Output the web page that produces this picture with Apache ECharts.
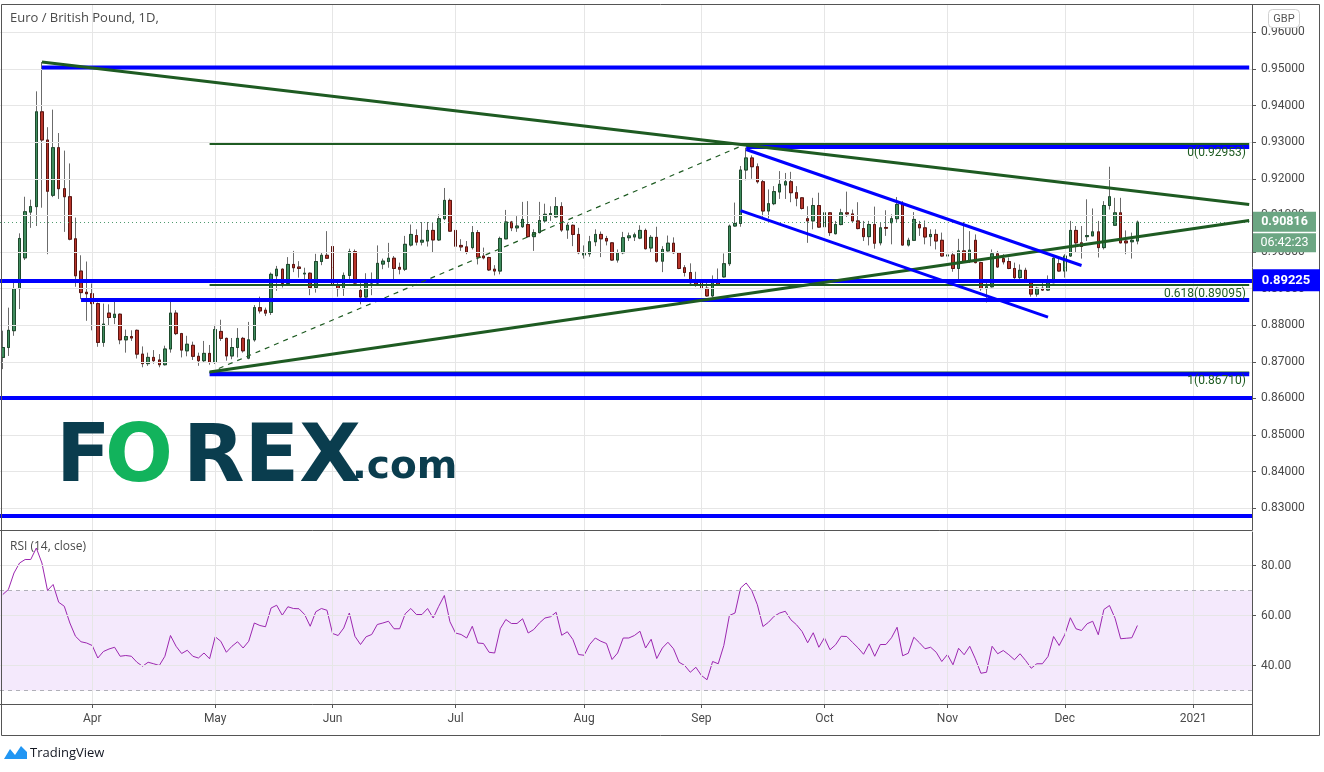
<!DOCTYPE html>
<html><head><meta charset="utf-8">
<script src="https://cdn.jsdelivr.net/npm/echarts@6/dist/echarts.min.js"></script>
<style>html,body{margin:0;padding:0;background:#fff}#c{width:1324px;height:772px}</style>
</head><body><div id="c"></div>
<script>
// ---------- DATA ----------
const opens=[.8712,.8739,.8785,.8900,.8984,.9109,.9124,.9383,.9306,.9155,.9285,.9173,.9151,.9036,.8948,.8890,.8886,.8859,.8753,.8833,
.8821,.8830,.8760,.8769,.8786,.8721,.8695,.8712,.8705,.8692,.8735,.8833,.8777,.8730,.8745,.8715,.8703,.8723,.8698,.8783,
.8764,.8716,.8739,.8764,.8710,.8760,.8848,.8841,.8835,.8935,.8953,.8914,.8966,.8959,.8940,.8942,.8903,.8974,.8991,.9015,
.8909,.8900,.8936,.9001,.8895,.8877,.8915,.8915,.8967,.8974,.8983,.8958,.8953,.9019,.9045,.9027,.9030,.9059,.9033,.9091,
.9141,.9059,.9018,.9014,.9012,.9053,.8989,.8985,.8953,.8948,.9036,.9082,.9066,.9069,.9075,.9042,.9053,.9085,.9101,.9096,
.9124,.9060,.9073,.9048,.8992,.8995,.9028,.9048,.9037,.9025,.8978,.8998,.9039,.9041,.9038,.9059,.9011,.9040,.8975,.9003,
.9024,.8998,.8957,.8944,.8922,.8921,.8901,.8880,.8921,.8932,.8968,.9071,.9078,.9224,.9257,.9233,.9192,.9112,.9132,.9164,
.9183,.9192,.9162,.9148,.9091,.9085,.9127,.9069,.9107,.9050,.9075,.9107,.9104,.9085,.9064,.9042,.9075,.9025,.9067,.9080,
.9091,.9130,.9019,.9032,.9075,.9066,.9042,.9048,.9032,.8989,.8992,.8955,.9003,.8974,.9032,.8971,.8900,.8905,.8995,.8982,
.8974,.8955,.8930,.8950,.8919,.8885,.8901,.8896,.8916,.8968,.8948,.8989,.9059,.9025,.9042,.9044,.9055,.9012,.9127,.9073,
.9107,.9030,.9028,.9030];
const highs=[.8785,.8848,.8916,.9051,.9151,.9143,.9439,.9519,.9341,.9389,.9325,.9277,.9242,.9094,.8991,.8974,.8914,.8862,.8859,.8857,
.8866,.8832,.8788,.8786,.8788,.8742,.8725,.8732,.8721,.8744,.8866,.8841,.8779,.8771,.8755,.8725,.8757,.8746,.8801,.8815,
.8766,.8765,.8792,.8768,.8809,.8855,.8878,.8848,.8944,.8962,.8955,.8986,.9003,.8975,.8957,.8944,.8995,.8998,.9057,.9020,
.8918,.8944,.9009,.9007,.8916,.8942,.8944,.9018,.8982,.9025,.8989,.8971,.9044,.9075,.9062,.9082,.9082,.9080,.9103,.9175,
.9146,.9082,.9035,.9030,.9071,.9060,.9012,.8987,.8964,.9042,.9115,.9085,.9098,.9137,.9139,.9062,.9137,.9132,.9125,.9150,
.9136,.9080,.9075,.9066,.9018,.9044,.9062,.9056,.9044,.9027,.9007,.9055,.9053,.9053,.9073,.9064,.9046,.9069,.9016,.9045,
.9040,.9000,.8964,.8969,.8946,.8944,.8916,.8936,.8955,.8996,.9075,.9135,.9235,.9285,.9264,.9242,.9198,.9171,.9180,.9221,
.9216,.9219,.9180,.9150,.9125,.9148,.9162,.9157,.9109,.9085,.9118,.9165,.9116,.9136,.9085,.9085,.9124,.9080,.9114,.9103,
.9150,.9139,.9039,.9109,.9085,.9086,.9062,.9062,.9053,.9039,.9001,.9036,.9082,.9057,.9048,.8973,.8916,.9007,.9003,.8994,
.8985,.8971,.8966,.8957,.8924,.8905,.8916,.8936,.8986,.8987,.8994,.9085,.9071,.9071,.9144,.9119,.9085,.9139,.9233,.9148,
.9148,.9059,.9053,.9086];
const lows=[.8680,.8716,.8771,.8844,.8978,.9066,.9071,.9121,.8994,.9150,.9145,.9055,.9032,.8905,.8871,.8812,.8786,.8741,.8741,.8798,
.8803,.8748,.8725,.8757,.8709,.8685,.8689,.8695,.8685,.8690,.8725,.8773,.8712,.8715,.8705,.8689,.8698,.8692,.8694,.8757,
.8703,.8707,.8712,.8725,.8707,.8755,.8832,.8825,.8828,.8894,.8903,.8912,.8945,.8930,.8921,.8882,.8889,.8964,.8982,.8905,
.8878,.8880,.8915,.8913,.8857,.8871,.8882,.8912,.8953,.8957,.8916,.8939,.8948,.9015,.9018,.9018,.9015,.9000,.9030,.9087,
.9055,.9003,.9003,.8994,.9007,.8966,.8980,.8948,.8936,.8939,.9035,.9057,.9055,.9066,.9039,.9003,.9051,.9080,.9085,.9094,
.9055,.9036,.9016,.8994,.8982,.8987,.9016,.8986,.9018,.8976,.8971,.8994,.9030,.9030,.9035,.9007,.8998,.8971,.8945,.9001,
.8995,.8953,.8933,.8907,.8905,.8889,.8878,.8876,.8910,.8930,.8962,.9069,.9069,.9196,.9200,.9187,.9096,.9092,.9128,.9145,
.9145,.9136,.9125,.9116,.9025,.9062,.9066,.9066,.9044,.9048,.9073,.9096,.9083,.9062,.9030,.9018,.9009,.9018,.9044,.9021,
.9080,.9018,.9015,.9030,.9044,.9021,.9016,.9007,.8987,.8987,.8946,.8925,.8972,.8970,.8969,.8894,.8862,.8903,.8957,.8966,
.8953,.8916,.8924,.8916,.8878,.8878,.8894,.8894,.8915,.8946,.8930,.8987,.9000,.8982,.9030,.9044,.8985,.9007,.9116,.9071,
.9024,.8994,.8982,.9021];
const closes=[.8739,.8786,.8900,.9037,.9110,.9124,.9383,.9306,.9166,.9285,.9173,.9151,.9035,.8935,.8889,.8886,.8859,.8753,.8803,.8821,
.8830,.8760,.8769,.8765,.8721,.8695,.8712,.8703,.8692,.8735,.8833,.8777,.8732,.8748,.8715,.8703,.8723,.8698,.8788,.8764,
.8716,.8739,.8764,.8730,.8760,.8848,.8839,.8833,.8939,.8953,.8914,.8966,.8957,.8955,.8942,.8903,.8974,.8991,.8983,.8909,
.8900,.8936,.9001,.8915,.8877,.8915,.8921,.8969,.8975,.8983,.8955,.8953,.9021,.9048,.9027,.9032,.9059,.9033,.9091,.9141,
.9057,.9016,.9014,.9000,.9053,.8986,.8984,.8951,.8948,.9037,.9082,.9066,.9071,.9089,.9042,.9053,.9086,.9103,.9105,.9124,
.9060,.9073,.9048,.8998,.8996,.9028,.9048,.9036,.9030,.8978,.8998,.9039,.9044,.9047,.9059,.9009,.9040,.8975,.9007,.9024,
.8998,.8955,.8944,.8916,.8912,.8900,.8880,.8918,.8912,.8968,.9071,.9078,.9224,.9257,.9233,.9192,.9112,.9132,.9165,.9185,
.9192,.9162,.9147,.9119,.9085,.9127,.9068,.9107,.9053,.9075,.9107,.9104,.9085,.9064,.9042,.9075,.9024,.9066,.9065,.9091,
.9130,.9019,.9032,.9089,.9066,.9041,.9048,.9030,.8989,.8992,.8955,.9003,.8974,.9005,.8971,.8900,.8905,.8995,.8959,.8973,
.8955,.8930,.8950,.8919,.8885,.8901,.8896,.8916,.8983,.8948,.8989,.9059,.9025,.9015,.9045,.9055,.9012,.9127,.9151,.9107,
.9025,.9025,.9032,.90816];
const rsi=[68.4,70.4,77,81,82.4,82.4,87,81,70,72.4,65.3,63.7,57,51.7,49.5,49,48,43,45.6,46.6,
47.3,43.7,44,43.7,41.3,39.7,41.3,40.7,40,43.7,52,47.7,44.8,46.1,43.7,43,45,42.7,51.5,49.7,
45.3,47.7,49.5,47,49.7,57,56,55.5,63,64.1,60.1,63.5,62.8,62.7,60.4,55.7,61.5,62.8,62.1,52.8,
52,55,61,51.7,48.4,51.5,52.4,56.4,57,57.7,54.7,54.7,60.7,62.8,60.4,60.4,62.8,59,63.7,68,
57.5,53,52.4,51,55.7,49,48.8,45.3,45,54.7,58.4,56.8,56.8,58.7,53,54.4,57,59,59.5,61.3,
52.1,53.5,50.4,44.4,44.1,48.4,51,49.7,48.8,42.4,45,51,51,52,53.7,47,50.5,42.8,47,49.3,
46.7,41.3,40,37.3,39.3,36,34.3,41.6,40.7,48,60,61,71,73,70,64.3,55.6,57.3,59.7,61,
61.7,58.3,56.3,53.6,49.1,53.1,47.3,51.1,46.3,48.3,51.7,51.6,49.3,47.1,44.5,48.7,43.7,48.4,48.4,51.1,
55.3,43.9,44.9,51.3,49.1,46.7,47.3,45.3,41.6,44.4,40.3,46.9,44.3,47.7,42.7,36.9,37.3,47.7,44.7,46,
44.3,42.3,44.7,42,38.9,40.7,40.7,43.6,51.6,48,52.3,59.1,54.7,54,56.7,57.7,52.3,62.4,64,58.9,
50.7,50.9,51.1,56];
const priceTicks=[0.83,0.84,0.85,0.86,0.87,0.88,0.89,0.90,0.91,0.92,0.93,0.94,0.95,0.96];
const rsiTicks=[40,60,80];
const fibLevels=[{ratio:'0',value:0.92953},{ratio:'0.618',value:0.89095},{ratio:'1',value:0.86710}];
// horizontal blue levels: [startIndex or null for full width, value]
const blueLevels=[[7,0.9504],[133,0.9287],[null,0.89225],[14,0.8869],[37,0.8666],[null,0.8601],[null,0.8280]];
// trend lines: [[i1,v1],[i2,v2]]
const greenTrends=[[[7,0.9519],[223,0.9130]],[[37,0.8672],[223,0.9086]]];
const blueChannel=[[[133,0.9280],[193,0.8963]],[[132,0.9113],[187,0.8822]]];
const fibDiagonal=[[37,0.86710],[133,0.92953]];
const markedLevel=0.89225;
const countdown='06:42:23';
const monthNames=['Jan','Feb','Mar','Apr','May','Jun','Jul','Aug','Sep','Oct','Nov','Dec'];

// ---------- CATEGORIES (weekday trading sessions) ----------
const NSLOTS=224;
const dates=[];
for(let d=new Date(Date.UTC(2020,2,10)); dates.length<NSLOTS; d.setUTCDate(d.getUTCDate()+1)){
  const wd=d.getUTCDay(); if(wd===0||wd===6) continue;
  dates.push(d.toISOString().slice(0,10));
}
const monthStartIdx=new Set(); const labelMap={};
dates.forEach((d,i)=>{ if(i>0 && d.slice(5,7)!==dates[i-1].slice(5,7)){ monthStartIdx.add(i);
  const m=+d.slice(5,7); labelMap[d]= m===1? d.slice(0,4) : monthNames[m-1]; }});
const monthStarts=[...monthStartIdx].map(i=>dates[i]);

const N=closes.length;
const ohlc=[], bodies=[];
for(let i=0;i<N;i++){
  ohlc.push([opens[i],closes[i],lows[i],highs[i]]);
  bodies.push([opens[i],closes[i],Math.min(opens[i],closes[i]),Math.max(opens[i],closes[i])]);
}
const lastClose=closes[N-1];

// ---------- STYLE ----------
const BLUE='#0000ff', GREEN='#1e5b22', UP='#3f8c5e', DOWN='#b8352a', UPB='#1d4a2c', DOWNB='#5c1410', WICK='#6b6b6b';
const AXIS='#555555', TXT='#4a4a4a', GRID='#e6e6e6';
const FONT='Roboto, "Noto Sans", sans-serif';

const chart=echarts.init(document.getElementById('c'),null,{renderer:'canvas'});
const MAIN_MIN=0.82404, MAIN_MAX=0.96749;

function seg(points,color,width,type,z){
  return {type:'line',xAxisIndex:0,yAxisIndex:0,data:points,symbol:'none',silent:true,animation:false,
    lineStyle:{color:color,width:width,type:type||'solid',cap:'butt'},z:z||5,clip:true};
}
const series=[];
// grid helpers (main)
series.push({type:'line',xAxisIndex:0,yAxisIndex:0,data:[],silent:true,z:1,
  markLine:{symbol:'none',silent:true,animation:false,precision:6,label:{show:false},
    data:[...priceTicks.map(v=>({yAxis:v,lineStyle:{color:GRID,width:1,type:'solid'}})),
          ...monthStarts.map(d=>({xAxis:d,lineStyle:{color:GRID,width:1,type:'solid'}}))]}});
// wicks (grey)
series.push({type:'candlestick',xAxisIndex:0,yAxisIndex:0,data:ohlc,barWidth:3,z:2,silent:true,animation:false,
  itemStyle:{color:UP,color0:DOWN,borderColor:WICK,borderColor0:WICK,borderWidth:1}});
// bodies
series.push({type:'candlestick',xAxisIndex:0,yAxisIndex:0,data:bodies,barWidth:3,z:3,silent:true,animation:false,
  itemStyle:{color:UP,color0:DOWN,borderColor:UPB,borderColor0:DOWNB,borderWidth:1}});
// last price dotted line + full-width blue levels
series.push({type:'line',xAxisIndex:0,yAxisIndex:0,data:[],silent:true,z:4,
  markLine:{symbol:'none',silent:true,animation:false,precision:6,label:{show:false},
    data:[{yAxis:lastClose,lineStyle:{color:'#4f9a6e',width:1,type:[1,3]}},
      ...blueLevels.filter(b=>b[0]===null).map(b=>({yAxis:b[1],lineStyle:{color:BLUE,width:4,type:'solid'}}))]}});
// fib levels
fibLevels.forEach(f=>series.push(seg([[fibDiagonal[0][0],f.value],[NSLOTS-1,f.value]],GREEN,2,'solid',5)));
// partial blue levels
blueLevels.filter(b=>b[0]!==null).forEach(b=>series.push(seg([[b[0],b[1]],[NSLOTS-1,b[1]]],BLUE,4,'solid',6)));
// fib diagonal
series.push(seg(fibDiagonal,GREEN,1.2,[5,5],5));
// trend lines
greenTrends.forEach(t=>series.push(seg(t,GREEN,3,'solid',6)));
blueChannel.forEach(t=>series.push(seg(t,BLUE,3,'solid',6)));
// RSI helpers
series.push({type:'line',xAxisIndex:1,yAxisIndex:1,data:[],silent:true,z:1,
  markArea:{silent:true,itemStyle:{color:'rgba(150,40,230,0.1)'},data:[[{yAxis:30},{yAxis:70}]]},
  markLine:{symbol:'none',silent:true,animation:false,precision:4,label:{show:false},
    data:[...rsiTicks.map(v=>({yAxis:v,lineStyle:{color:GRID,width:1,type:'solid'}})),
          ...monthStarts.map(d=>({xAxis:d,lineStyle:{color:GRID,width:1,type:'solid'}})),
          {yAxis:70,lineStyle:{color:'#b0b0b8',width:1,type:[4,4]}},
          {yAxis:30,lineStyle:{color:'#b0b0b8',width:1,type:[4,4]}}]}});
series.push({type:'line',xAxisIndex:1,yAxisIndex:1,data:rsi,symbol:'none',z:3,silent:true,animation:false,
  lineStyle:{color:'#9c27b0',width:1}});

chart.setOption({
  animation:false,
  backgroundColor:'#ffffff',
  textStyle:{fontFamily:FONT},
  grid:[{left:0,top:5,width:1252,height:525},{left:0,top:532,width:1252,height:172}],
  xAxis:[
    {type:'category',gridIndex:0,data:dates,boundaryGap:true,axisLine:{show:true,lineStyle:{color:AXIS}},
      axisTick:{show:false},axisLabel:{show:false},splitLine:{show:false}},
    {type:'category',gridIndex:1,data:dates,boundaryGap:true,axisLine:{show:true,lineStyle:{color:AXIS}},
      axisTick:{show:true,alignWithLabel:true,length:4,lineStyle:{color:AXIS},interval:(i)=>monthStartIdx.has(i)},
      axisLabel:{show:true,interval:(i)=>monthStartIdx.has(i),formatter:(v)=>labelMap[v]||'',color:TXT,fontSize:12,margin:9,fontFamily:FONT},
      splitLine:{show:false}}
  ],
  yAxis:[
    {type:'value',gridIndex:0,position:'right',min:MAIN_MIN,max:MAIN_MAX,
      axisLine:{show:true,lineStyle:{color:AXIS}},
      axisTick:{show:true,length:4,lineStyle:{color:AXIS},customValues:priceTicks},
      axisLabel:{show:true,customValues:priceTicks,formatter:(v)=>v.toFixed(5),color:TXT,fontSize:12,margin:9,fontFamily:FONT},
      splitLine:{show:false}},
    {type:'value',gridIndex:1,position:'right',min:24.6,max:93.4,
      axisLine:{show:true,lineStyle:{color:AXIS}},
      axisTick:{show:true,length:4,lineStyle:{color:AXIS},customValues:rsiTicks},
      axisLabel:{show:true,customValues:rsiTicks,formatter:(v)=>v.toFixed(2),color:TXT,fontSize:12,margin:9,fontFamily:FONT},
      splitLine:{show:false}}
  ],
  series:series
});

// ---------- GRAPHICS (text & labels positioned through the axes) ----------
const py=v=>chart.convertToPixel({yAxisIndex:0},v);
const yLast=py(lastClose), yMark=py(markedLevel);
const g=[];
// frame
g.push({type:'rect',shape:{x:1.5,y:4.5,width:1318,height:731},style:{fill:null,stroke:AXIS,lineWidth:1},silent:true,z:50});
g.push({type:'line',shape:{x1:1252.5,y1:704,x2:1252.5,y2:735},style:{stroke:AXIS,lineWidth:1},silent:true,z:50});
// title
g.push({type:'text',x:10,y:18,style:{text:'Euro / British Pound, 1D,',fill:'#4a4a4a',font:'13px "Open Sans", sans-serif',textVerticalAlign:'middle'},z:60});
g.push({type:'text',x:10,y:547,style:{text:'RSI (14, close)',fill:'#4a4a4a',font:'12px "Open Sans", sans-serif',textVerticalAlign:'middle'},z:60});
// GBP badge
g.push({type:'rect',shape:{x:1268.5,y:9.5,width:31,height:18,r:4},style:{fill:'#fff',stroke:'#d0d0d0',lineWidth:1},z:60});
g.push({type:'text',x:1284,y:19,style:{text:'GBP',fill:'#555',font:'11px Roboto, sans-serif',textAlign:'center',textVerticalAlign:'middle'},z:61});
// last price label + countdown
g.push({type:'rect',shape:{x:1253,y:yLast-10.5,width:63,height:20},style:{fill:'#6ca683'},z:60});
g.push({type:'text',x:1284.5,y:yLast,style:{text:lastClose.toFixed(5),fill:'#fff',font:'bold 12.5px Roboto, sans-serif',textAlign:'center',textVerticalAlign:'middle'},z:61});
g.push({type:'rect',shape:{x:1253,y:yLast+11,width:63,height:19},style:{fill:'#6ca683'},z:60});
g.push({type:'text',x:1284.5,y:yLast+20.5,style:{text:countdown,fill:'#fff',font:'12.5px Roboto, sans-serif',textAlign:'center',textVerticalAlign:'middle'},z:61});
// marked level label
g.push({type:'rect',shape:{x:1253,y:yMark-11,width:67,height:22},style:{fill:BLUE},z:60});
g.push({type:'text',x:1286,y:yMark,style:{text:markedLevel.toFixed(5),fill:'#fff',font:'bold 13px Roboto, sans-serif',textAlign:'center',textVerticalAlign:'middle'},z:61});
// fib labels
fibLevels.forEach(f=>{
  g.push({type:'text',x:1246,y:py(f.value)+9,style:{text:f.ratio+'('+f.value.toFixed(5)+')',fill:GREEN,font:'12px Roboto, sans-serif',textAlign:'right',textVerticalAlign:'middle'},z:60});
});
// FOREX.com logo
const LOGO_DARK='#0a3d4e', LOGO_GREEN='#12b35c';
const logoFont='bold 80px "DejaVu Sans", sans-serif';
g.push({type:'text',x:56,y:460,style:{text:'F',fill:LOGO_DARK,font:logoFont,textVerticalAlign:'middle'},z:40});
g.push({type:'text',x:105,y:460,style:{text:'O',fill:LOGO_GREEN,font:logoFont,textVerticalAlign:'middle'},z:40});
g.push({type:'text',x:183,y:460,style:{text:'REX',fill:LOGO_DARK,font:logoFont,textVerticalAlign:'middle'},z:40});
g.push({type:'text',x:352,y:468,style:{text:'.com',fill:LOGO_DARK,font:'bold 39px "DejaVu Sans", sans-serif',textVerticalAlign:'middle'},z:40});
// TradingView mark
g.push({type:'polygon',shape:{points:[[4,759],[10,749],[15,755],[21,746],[27,752],[27,759]]},style:{fill:'#2196f3'},z:60});
g.push({type:'text',x:30,y:753,style:{text:'TradingView',fill:'#131722',font:'13px "Open Sans", sans-serif',textVerticalAlign:'middle'},z:60});
chart.setOption({graphic:g});
</script></body></html>
